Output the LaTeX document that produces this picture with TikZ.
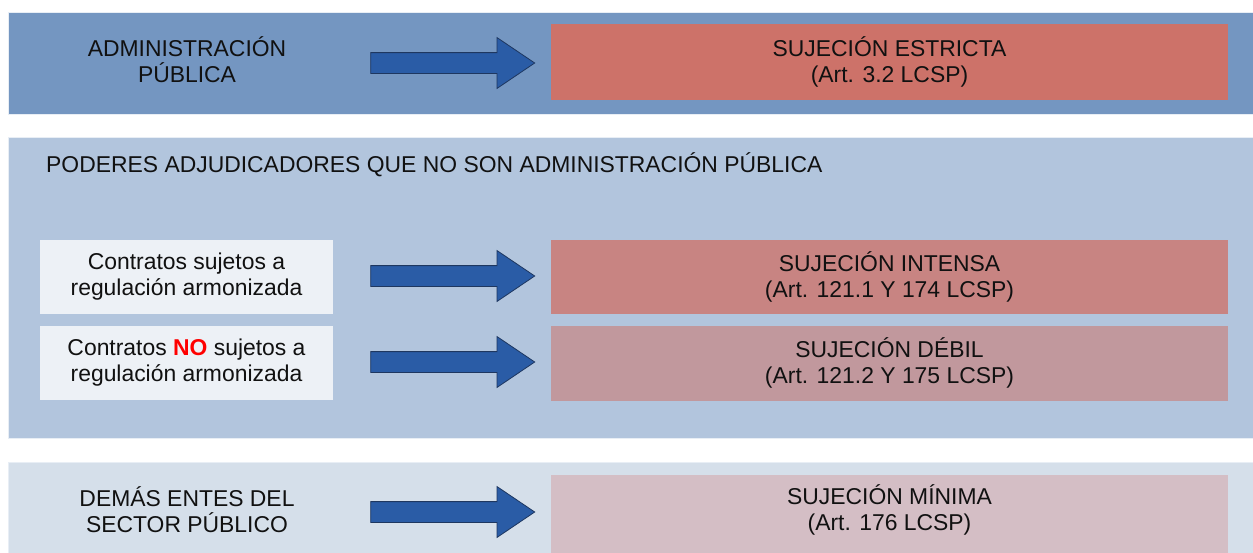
\documentclass[tikz,border=0pt]{standalone}
\usepackage{fontspec}
\setmainfont{Liberation Sans}
\usetikzlibrary{shapes.arrows}
\definecolor{bandA}{HTML}{7496C1}
\definecolor{bandB}{HTML}{B2C5DD}
\definecolor{bandC}{HTML}{D5DFEA}
\definecolor{lightbox}{HTML}{EDF1F6}
\definecolor{redA}{HTML}{CD7269}
\definecolor{redB}{HTML}{C88482}
\definecolor{redC}{HTML}{C1989D}
\definecolor{redD}{HTML}{D4BEC5}
\definecolor{arrowfill}{HTML}{2A5CA6}
\definecolor{arrowline}{HTML}{1E3760}
\definecolor{txt}{HTML}{111111}
\tikzset{
  band/.style={draw=white!70!bandB, line width=0.6pt},
  resultbox/.style={minimum width=677pt, minimum height=76pt, inner sep=0pt, align=center, font=\fontsize{22.9}{26}\selectfont, text=txt},
  casebox/.style={fill=lightbox, minimum width=293pt, minimum height=74pt, inner sep=0pt, align=center, font=\fontsize{22.9}{26}\selectfont, text=txt},
  plainlabel/.style={inner sep=0pt, align=center, font=\fontsize{22.9}{26}\selectfont, text=txt},
  bigarrow/.style={single arrow, fill=arrowfill, draw=arrowline, line width=0.8pt, minimum height=164pt, minimum width=50pt, inner sep=10pt, single arrow head extend=15pt, single arrow tip angle=68, shape border rotate=0},
}
\begin{document}
\begin{tikzpicture}[x=1pt,y=-1pt]
\useasboundingbox (0,0) rectangle (1253,552);
\fill[white] (0,0) rectangle (1253,552);
% bands
\path[band, fill=bandA] (8,12) rectangle (1260,114);
\path[band, fill=bandB] (8,137) rectangle (1260,438);
\path[band, fill=bandC] (8,462) rectangle (1260,560);
% band 1
\node[plainlabel] (ap) at (187,60) {ADMINISTRACIÓN\\PÚBLICA};
\node[resultbox, fill=redA] (r1) at (889.5,62) {SUJECIÓN ESTRICTA\\(Art. 3.2 LCSP)};
\node[bigarrow] (a1) at (445,63) {};
% band 2
\node[plainlabel, anchor=west] (title) at (46,165) {PODERES ADJUDICADORES QUE NO SON ADMINISTRACIÓN PÚBLICA};
\node[casebox] (c1) at (186.5,276.5) {Contratos sujetos a\\regulación armonizada};
\node[casebox] (c2) at (186.5,362.5) {Contratos \textcolor{red}{\textbf{NO}} sujetos a\\regulación armonizada};
\node[resultbox, fill=redB, minimum height=74pt] (r2) at (889.5,276.5) {SUJECIÓN INTENSA\\(Art. 121.1 Y 174 LCSP)};
\node[resultbox, fill=redC, minimum height=75pt] (r3) at (889.5,363) {SUJECIÓN DÉBIL\\(Art. 121.2 Y 175 LCSP)};
\node[bigarrow] (a2) at (445,276) {};
\node[bigarrow] (a3) at (445,362) {};
% band 3
\node[plainlabel] (dem) at (187,510) {DEMÁS ENTES DEL\\SECTOR PÚBLICO};
\node[resultbox, fill=redD, minimum height=80pt] (r4) at (889.5,515) {};
\node[plainlabel] (r4t) at (889.5,510) {SUJECIÓN MÍNIMA\\(Art. 176 LCSP)};
\node[bigarrow] (a4) at (445,512) {};
\end{tikzpicture}
\end{document}
